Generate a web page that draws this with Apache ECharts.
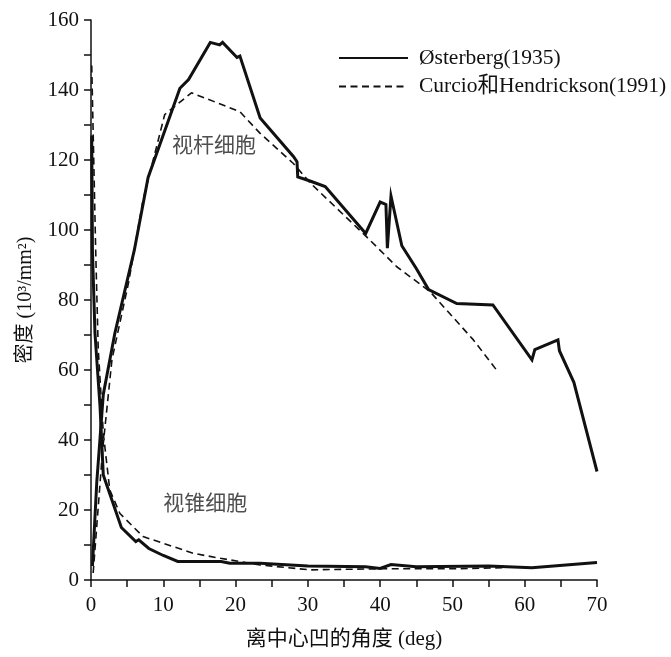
<!DOCTYPE html>
<html>
<head>
<meta charset="utf-8">
<script src="https://cdn.jsdelivr.net/npm/echarts@6/dist/echarts.min.js"></script>
<style>
html,body{margin:0;padding:0;background:#fff;}
#main{width:671px;height:657px;}
</style>
</head>
<body>
<div id="main"></div>
<script>
// ---- data (x: angle from fovea in deg, y: density in 10^3/mm^2) ----
var osterbergName = 'Østerberg(1935)';
var curcioName = 'Curcio和Hendrickson(1991)';

var osterbergRodsX = [0.2, 0.8, 1.7, 3.3, 6.0, 7.9, 12.3, 13.5, 16.5, 17.8, 18.2, 20.2, 20.6, 23.4, 28.0, 28.5, 28.6, 30.3, 32.4, 38.0, 40.0, 40.8, 41.0, 41.5, 43.0, 45.0, 46.7, 50.6, 55.6, 61.0, 61.4, 64.6, 64.8, 66.8, 70.0];
var osterbergRodsY = [4, 28, 53, 70.5, 94.3, 115, 140.5, 143, 153.6, 152.9, 153.6, 149.3, 149.7, 132, 121, 119.5, 115.2, 114, 112.4, 99, 108, 107.3, 94.8, 109.7, 95.5, 89, 83, 79, 78.6, 62.9, 65.8, 68.6, 65.5, 56.5, 31];

var osterbergConesX = [0.1, 0.2, 0.55, 1.25, 1.7, 4.2, 6.2, 6.6, 8.0, 10.0, 12.0, 18.0, 19.2, 23.4, 30.0, 38.0, 40.0, 41.5, 45.0, 55.0, 61.0, 70.0];
var osterbergConesY = [127, 94, 70.5, 49.5, 30, 15, 11, 11.5, 9, 7, 5.3, 5.3, 4.8, 4.8, 4, 3.8, 3.3, 4.4, 3.8, 4, 3.5, 5];

var curcioRodsX = [0.3, 1.6, 2.9, 5.2, 7.2, 10.2, 13.9, 20.6, 23.4, 28.0, 30.3, 38.1, 42.3, 46.9, 49.2, 52.9, 56.1];
var curcioRodsY = [2, 37, 63, 85, 108.6, 133, 139.2, 133.8, 127.6, 119, 113.5, 98.1, 89.5, 82.4, 77.1, 68.6, 60];

var curcioConesX = [0.1, 0.65, 1.0, 1.7, 2.6, 4.0, 7.2, 14.2, 17.9, 23.4, 30.3, 40.0, 50.0, 57.0];
var curcioConesY = [147, 94, 66, 42, 25.7, 19, 12.4, 7.6, 6.2, 4.3, 2.9, 3.2, 3.2, 3.5];

var annotationText = ['视杆细胞', '视锥细胞'];
var annotationX = [17.0, 15.8];
var annotationY = [124, 21.7];

var xTicks = [0, 10, 20, 30, 40, 50, 60, 70];
var yTicks = [0, 20, 40, 60, 80, 100, 120, 140, 160];

function pairs(xs, ys) { return xs.map(function (x, i) { return [x, ys[i]]; }); }

var FONT = "'Liberation Serif', 'Times New Roman', 'Noto Sans CJK SC', serif";
var chart = echarts.init(document.getElementById('main'), null, {renderer: 'canvas'});

var solidStyle = {color: '#111', width: 3, type: 'solid', join: 'miter'};
var dashStyle = {color: '#111', width: 1.6, type: [7, 4.5]};

chart.setOption({
  animation: false,
  backgroundColor: '#fff',
  grid: {left: 91, right: 74, top: 20, bottom: 77},
  legend: {
    orient: 'vertical',
    left: 333,
    top: 41,
    itemWidth: 69,
    itemHeight: 14,
    itemGap: 4.4,
    itemStyle: {opacity: 0},
    data: [osterbergName, curcioName],
    textStyle: {fontFamily: FONT, fontSize: 21.5, color: '#111', lineHeight: 24, padding: [0, 0, 0, 6]}
  },
  xAxis: {
    type: 'value', min: 0, max: 70, interval: 10,
    name: '离中心凹的角度 (deg)', nameLocation: 'middle', nameGap: 49,
    nameTextStyle: {fontFamily: FONT, fontSize: 21, color: '#111'},
    axisLine: {lineStyle: {color: '#111', width: 1.5}},
    axisTick: {length: 7, lineStyle: {color: '#111', width: 1.5}},
    minorTick: {show: true, splitNumber: 2, length: 7, lineStyle: {color: '#111', width: 1.5}},
    axisLabel: {fontFamily: FONT, fontSize: 21, color: '#111', margin: 15,
      customValues: xTicks},
    splitLine: {show: false}
  },
  yAxis: {
    type: 'value', min: 0, max: 160, interval: 20,
    name: '密度 (10³/mm²)', nameLocation: 'middle', nameGap: 55,
    nameTextStyle: {fontFamily: FONT, fontSize: 20, color: '#111'},
    axisLine: {show: true, lineStyle: {color: '#111', width: 1.5}},
    axisTick: {show: true, length: 7, lineStyle: {color: '#111', width: 1.5}},
    minorTick: {show: true, splitNumber: 2, length: 7, lineStyle: {color: '#111', width: 1.5}},
    axisLabel: {fontFamily: FONT, fontSize: 21, color: '#111', margin: 12},
    splitLine: {show: false}
  },
  series: [
    {name: osterbergName, type: 'line', data: pairs(osterbergRodsX, osterbergRodsY), symbol: 'none', lineStyle: solidStyle, itemStyle: {color: '#111'}, z: 3},
    {name: osterbergName, type: 'line', data: pairs(osterbergConesX, osterbergConesY), symbol: 'none', lineStyle: solidStyle, itemStyle: {color: '#111'}, z: 3},
    {name: curcioName, type: 'line', data: pairs(curcioRodsX, curcioRodsY), symbol: 'none', lineStyle: dashStyle, itemStyle: {color: '#111'}, z: 2},
    {name: curcioName, type: 'line', data: pairs(curcioConesX, curcioConesY), symbol: 'none', lineStyle: dashStyle, itemStyle: {color: '#111'}, z: 2},
    {
      name: 'labels', type: 'scatter', symbolSize: 0, silent: true,
      data: annotationText.map(function (t, i) { return {value: [annotationX[i], annotationY[i]], name: t}; }),
      label: {show: true, position: 'inside', formatter: '{b}', fontFamily: FONT, fontSize: 21, color: '#222'}
    }
  ]
});
</script>
</body>
</html>
